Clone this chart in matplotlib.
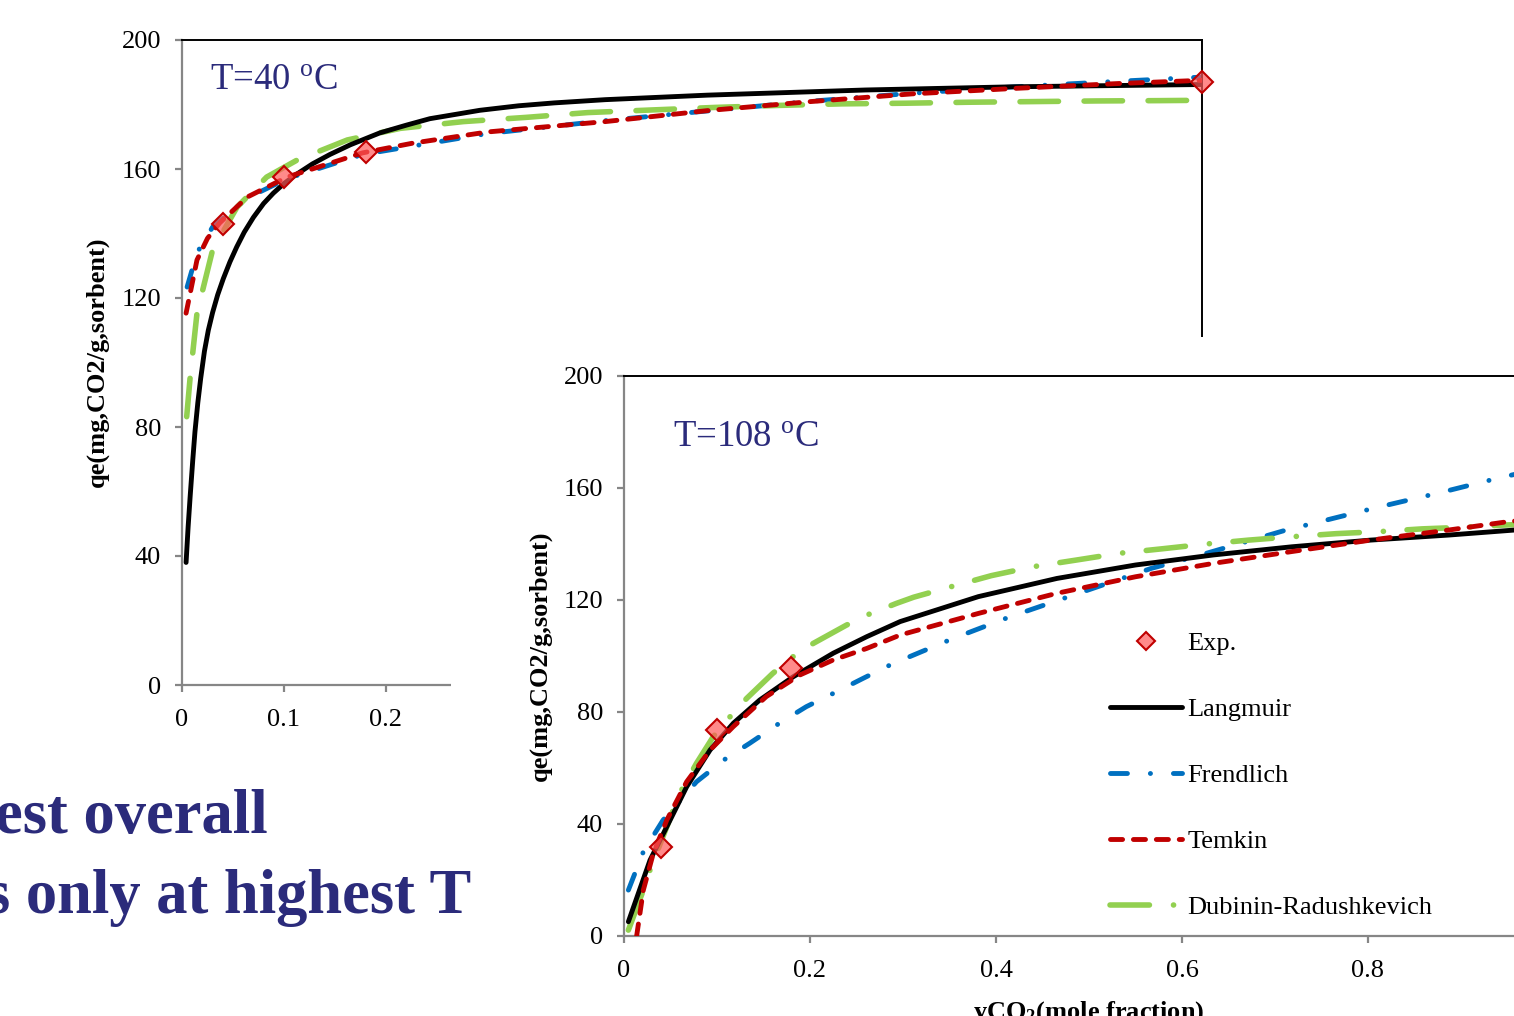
import matplotlib
matplotlib.use('Agg')
import matplotlib.pyplot as plt
from matplotlib.patches import Rectangle
from matplotlib.ticker import FuncFormatter, MultipleLocator

plt.rcParams['font.family'] = ['Liberation Serif', 'DejaVu Serif']
plt.rcParams['mathtext.fontset'] = 'custom'
plt.rcParams['mathtext.rm'] = 'Liberation Serif'
plt.rcParams['mathtext.bf'] = 'Liberation Serif:bold'
plt.rcParams['mathtext.it'] = 'Liberation Serif:italic'
plt.rcParams['lines.scale_dashes'] = False

# ---------------- data: T = 40 C ----------------
x40_exp = [0.04, 0.10, 0.18, 1.0]
y40_exp = [143, 157.5, 165.3, 187]

x40_lang = [0.004, 0.006, 0.008, 0.0105, 0.0127, 0.0155, 0.0183, 0.022, 0.0258, 0.030, 0.035,
            0.0405, 0.047, 0.0536, 0.061, 0.070, 0.080, 0.0895, 0.100, 0.112, 0.128, 0.145,
            0.165, 0.194, 0.22, 0.243, 0.292, 0.33, 0.365, 0.415, 0.515, 0.67, 0.817, 1.0]
y40_lang = [38, 49, 58.5, 69.5, 78.5, 87.5, 95, 103.5, 110, 115.5, 121,
            126, 131.2, 135.8, 140.4, 145, 149.3, 152.5, 155.5, 158.3, 161.6, 164.5,
            167.5, 171.2, 173.6, 175.6, 178.2, 179.6, 180.5, 181.5, 182.9, 184.5, 185.5, 186.2]

x40_frd = [0.005, 0.0147, 0.030, 0.064, 0.103, 0.177, 0.30, 0.415, 0.515, 0.616, 0.716,
           0.817, 0.918, 1.0]
y40_frd = [123.4, 134, 142, 151, 157, 164.5, 171, 175, 178, 181, 183.5,
           185.5, 187.2, 188.5]

x40_tem = [0.004, 0.0147, 0.025, 0.037, 0.064, 0.103, 0.177, 0.226, 0.30, 0.415, 0.515,
           0.616, 0.716, 0.817, 0.918, 1.0]
y40_tem = [115.3, 131.8, 138.5, 143.3, 151.3, 157.5, 165, 168, 171.5, 174.7, 178.1,
           180.9, 183.3, 185, 186.5, 187.5]

x40_dr = [0.0046, 0.008, 0.0147, 0.030, 0.054, 0.083, 0.113, 0.162, 0.214, 0.276, 0.337,
          0.398, 0.46, 0.523, 0.583, 0.647, 0.71, 0.771, 0.834, 0.896, 0.958, 1.0]
y40_dr = [83.2, 95.5, 115.3, 134.9, 148.2, 157.5, 162.8, 169, 172.6, 174.7, 176,
          177.5, 178.3, 179.1, 179.7, 180.2, 180.4, 180.7, 180.9, 181.1, 181.2, 181.3]

# ---------------- data: T = 108 C ----------------
x108_exp = [0.04, 0.10, 0.18]
y108_exp = [31.8, 73.6, 95.7]

x108_lang = [0.0047, 0.028, 0.046, 0.0674, 0.0925, 0.1176, 0.146, 0.182, 0.225, 0.261, 0.297,
             0.381, 0.4655, 0.55, 0.634, 0.718, 0.803, 0.887, 0.958, 1.0]
y108_lang = [5.1, 27.1, 39, 53.3, 66.4, 76, 84.3, 92.6, 101, 106.9, 112.3,
             121.2, 127.7, 132.5, 136.1, 139, 141.4, 143.2, 145, 146]

x108_frd = [0.0047, 0.0208, 0.042, 0.078, 0.110, 0.135, 0.168, 0.196, 0.229, 0.257, 0.288,
            0.352, 0.415, 0.48, 0.567, 0.611, 0.71, 0.809, 0.877, 0.942, 1.0]
y108_frd = [16.4, 30.1, 41.4, 55.1, 63.5, 68.8, 76.2, 81.9, 87.3, 92, 97.1,
            106, 114, 121.4, 131.3, 135.2, 144.8, 153, 158.3, 163.7, 168]

x108_tem = [0.0136, 0.0208, 0.0315, 0.046, 0.0674, 0.0925, 0.1176, 0.153, 0.189, 0.225, 0.261,
            0.297, 0.381, 0.4655, 0.55, 0.634, 0.718, 0.803, 0.887, 0.951, 1.0]
y108_tem = [0, 16.4, 29.5, 41.4, 55.1, 66.4, 74.8, 85.5, 93.2, 98.6, 102.7,
            107.5, 115.2, 122.4, 128.3, 133.1, 137.3, 141.4, 145, 148, 149.5]

x108_dr = [0.0047, 0.0208, 0.028, 0.046, 0.060, 0.078, 0.096, 0.114, 0.132, 0.16, 0.182,
           0.2035, 0.239, 0.261, 0.293, 0.3115, 0.349, 0.395, 0.44, 0.487, 0.533, 0.579,
           0.626, 0.672, 0.718, 0.766, 0.811, 0.858, 0.904, 0.942, 1.0]
y108_dr = [2.1, 16.4, 23.6, 39, 51, 61.7, 71.2, 78.3, 84.9, 93.8, 99.8,
           104.5, 111, 114.6, 118.8, 121, 124.5, 128.7, 131.9, 134.3, 136.7, 138.3,
           140, 141.4, 142.6, 143.7, 144.4, 145.4, 146, 146.7, 147.5]

legend_labels = ['Exp.', 'Langmuir', 'Frendlich', 'Temkin', 'Dubinin-Radushkevich']
yticks = [0, 40, 80, 120, 160, 200]

# ---------------- styles ----------------
NAVY = '#2B2B7B'
C_BLACK = '#000000'
C_BLUE = '#0070C0'
C_RED = '#C00000'
C_GREEN = '#92D050'
LW = 3.5
DASH_RED = (0, (8.7, 7.8))
DASH_BLUE = (0, (12.2, 16.5, 0.1, 16.5))
DASH_GREEN_LONG = (0, (27.7, 18.4))
DASH_GREEN_LDD = (0, (28.4, 17.3, 0.1, 17.0))

W, H = 1514, 1016
fig = plt.figure(figsize=(W / 100, H / 100), dpi=100)


def px_axes(l, t, r, b):
    return [l / W, 1 - b / H, (r - l) / W, (b - t) / H]


def style(ax, xmajor, xlabel_max):
    ax.set_xlim(0, 1)
    ax.set_ylim(0, 200)
    ax.xaxis.set_major_locator(MultipleLocator(xmajor))
    ax.set_yticks(yticks)
    # labels lying under the overlapping panel are not visible in the slide
    ax.xaxis.set_major_formatter(
        FuncFormatter(lambda v, p: f'{round(v, 6):g}' if v <= xlabel_max else ''))
    for s in ['left', 'bottom']:
        ax.spines[s].set_color('#868686')
        ax.spines[s].set_linewidth(1.6)
    for s in ['top', 'right']:
        ax.spines[s].set_color('black')
        ax.spines[s].set_linewidth(1.4)
    ax.tick_params(direction='out', length=5, width=1.6, color='#868686',
                   labelsize=19, top=False, right=False)
    ax.tick_params(axis='y', pad=10)
    ax.tick_params(axis='x', pad=12)
    ax.set_facecolor('white')


def draw(ax, xl, yl, xf, yf, xt, yt, xd, yd, xe, ye, dr_dash):
    hl, = ax.plot(xl, yl, color=C_BLACK, lw=LW, solid_capstyle='round',
                  solid_joinstyle='round', zorder=3)
    hf, = ax.plot(xf, yf, color=C_BLUE, lw=LW, linestyle=DASH_BLUE,
                  dash_capstyle='round', zorder=2)
    ht, = ax.plot(xt, yt, color=C_RED, lw=LW, linestyle=DASH_RED,
                  dash_capstyle='round', zorder=4)
    hd, = ax.plot(xd, yd, color=C_GREEN, lw=4.0, linestyle=dr_dash,
                  dash_capstyle='round', zorder=2.5)
    he, = ax.plot(xe, ye, linestyle='none', marker='D', markersize=11,
                  markerfacecolor=(1.0, 0.35, 0.35, 0.7), markeredgecolor=C_RED,
                  markeredgewidth=1.5, zorder=6, clip_on=False)
    return he, hl, hf, ht, hd


# chart 1
ax1 = fig.add_axes(px_axes(182, 40, 1202, 685))
ax1.set_zorder(1)
style(ax1, 0.1, 0.25)
draw(ax1, x40_lang, y40_lang, x40_frd, y40_frd, x40_tem, y40_tem,
     x40_dr, y40_dr, x40_exp, y40_exp, DASH_GREEN_LONG)

# white panel of the second chart
panel = Rectangle((451 / W, 0), 1 - 451 / W, (H - 337) / H, transform=fig.transFigure,
                  facecolor='white', edgecolor='none', zorder=2)
fig.add_artist(panel)

# chart 2
ax2 = fig.add_axes(px_axes(624, 376, 1554, 936))
ax2.set_zorder(3)
style(ax2, 0.2, 1.0)
handles = draw(ax2, x108_lang, y108_lang, x108_frd, y108_frd, x108_tem, y108_tem,
               x108_dr, y108_dr, x108_exp, y108_exp, DASH_GREEN_LDD)

leg = ax2.legend(handles=list(handles), labels=legend_labels, loc='upper left',
                 bbox_to_anchor=(1110 / W, 1 - 632 / H), bbox_transform=fig.transFigure,
                 frameon=False, fontsize=19, handlelength=2.73, handletextpad=0.2,
                 labelspacing=1.61, borderpad=0, borderaxespad=0, markerscale=0.8,
                 numpoints=1)

# texts
ylab = 'qe(mg,CO2/g,sorbent)'
fig.text(97 / W, 1 - 362 / H, ylab, rotation=90, ha='center', va='center',
         fontsize=19, fontweight='bold', zorder=5)
fig.text(540 / W, 1 - 656 / H, ylab, rotation=90, ha='center', va='center',
         fontsize=19, fontweight='bold', zorder=5)
fig.text(1089 / W, 1 - 1019 / H, r'yCO$_{\mathbf{2}}$(mole fraction)', ha='center',
         va='baseline', fontsize=19, fontweight='bold', zorder=5)

fig.text(210 / W, 1 - 90 / H, r'T=40 $^{\mathrm{o}}$C', ha='left', va='baseline',
         fontsize=26.5, color=NAVY, zorder=5)
fig.text(673 / W, 1 - 447 / H, r'T=108 $^{\mathrm{o}}$C', ha='left', va='baseline',
         fontsize=26.5, color=NAVY, zorder=5)

fig.text(268 / W, 1 - 833 / H, 'est overall', ha='right', va='baseline',
         fontsize=45, fontweight='bold', color=NAVY, zorder=10)
fig.text(471 / W, 1 - 913 / H, 's only at highest T', ha='right', va='baseline',
         fontsize=45, fontweight='bold', color=NAVY, zorder=10)

fig.savefig('out.png', dpi=100)
